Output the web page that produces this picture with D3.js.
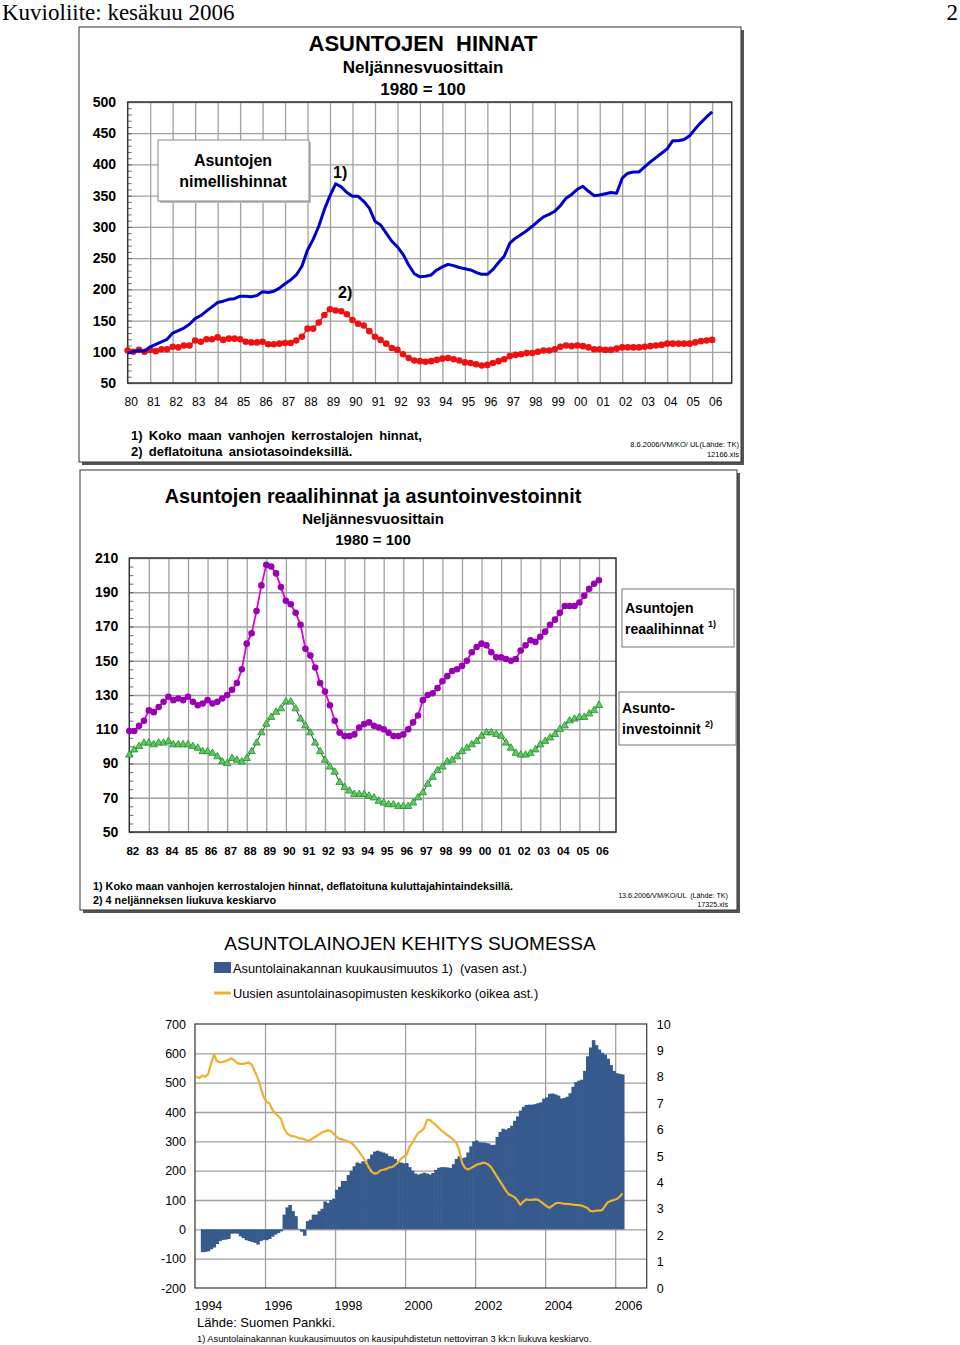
<!DOCTYPE html>
<html>
<head>
<meta charset="utf-8">
<script src="https://d3js.org/d3.v7.min.js"></script>
<style>
    body { margin: 0; background: #fff; }
    svg text { font-family: "Liberation Sans", Arial, sans-serif; fill: #000; white-space: pre; }
    .grid line { stroke: #a0a0a0; stroke-width: 1.3; }
    .grid .domain { stroke: none; }
    .noline .domain, .noline line { stroke: none; }
    .minor line { stroke: #444; stroke-width: 0.8; }
    .minor .domain { stroke: none; }
</style>
</head>
<body>
<svg id="page" width="960" height="1345"></svg>
<script>
// --- chart 1: nominal and deflated prices, quarterly 1980Q1-2006Q1
const nominalPrices = [
    98, 100, 102, 101, 108, 112, 116, 120, 130, 134, 138, 144,
    153, 158, 165, 172, 179, 181, 184, 185, 189, 189, 188, 190,
    196, 195, 197, 202, 209, 215, 223, 237, 263, 280, 301, 328,
    350, 369, 364, 355, 349, 349, 341, 330, 309, 303, 290, 277,
    268, 256, 239, 225, 220, 221, 223, 231, 236, 240, 238, 235,
    233, 231, 227, 224, 224, 232, 243, 253, 274, 282, 288, 294,
    301, 309, 316, 320, 325, 334, 346, 352, 360, 365, 357, 350,
    351, 353, 355, 354, 378, 386, 388, 388, 396, 404, 411, 418,
    425, 438, 438, 440, 446, 457, 467, 476, 484
];
const deflatedPrices = [
    102, 100, 103, 100, 103, 101, 104, 104, 108, 107, 110, 110,
    118, 116, 120, 120, 123, 119, 121, 121, 120, 116, 115, 115,
    116, 112, 112, 113, 114, 114, 118, 124, 137, 137, 147, 159,
    168, 166, 165, 160, 151, 145, 142, 133, 124, 119, 113, 106,
    103, 96, 90, 86, 85, 84, 85, 87, 89, 90, 88, 86,
    83, 82, 80, 78, 79, 82, 85, 88, 93, 95, 96, 98,
    98, 100, 102, 102, 104, 108, 110, 109, 110, 109, 107, 104,
    104, 103, 103, 105, 107, 107, 107, 107, 108, 109, 110, 111,
    113, 113, 113, 113, 113, 115, 117, 118, 119
];
const years1 = d3.range(1980, 2007);
const ticks1 = [50, 100, 150, 200, 250, 300, 350, 400, 450, 500];

// --- chart 2: real prices and investment, quarterly 1982Q1-2006Q1
const realPrices = [
    109, 109, 112, 115, 121, 120, 123, 126, 129, 127, 128, 127,
    129, 126, 124, 125, 127, 125, 126, 128, 130, 133, 137, 145,
    160, 166, 179, 194, 206, 205, 201, 193, 185, 183, 178, 171,
    157, 153, 146, 137, 132, 124, 115, 108, 106, 106, 107, 111,
    113, 114, 112, 111, 110, 108, 106, 106, 107, 110, 114, 118,
    127, 130, 131, 134, 138, 141, 144, 145, 147, 150, 155, 158,
    160, 159, 155, 152, 152, 151, 150, 151, 156, 159, 162, 161,
    164, 167, 171, 174, 178, 182, 182, 182, 184, 188, 192, 195, 197
];
const housingInvestment = [
    95, 98, 100, 102, 102, 101, 102, 102, 103, 101, 101, 101,
    101, 100, 99, 97, 97, 96, 94, 91, 90, 93, 92, 91,
    93, 97, 102, 108, 113, 117, 120, 122, 126, 126, 122, 116,
    112, 108, 102, 97, 92, 88, 85, 79, 76, 74, 72, 72,
    72, 71, 70, 68, 67, 66, 66, 65, 65, 65, 67, 70,
    73, 78, 82, 86, 88, 91, 92, 94, 97, 99, 101, 103,
    106, 108, 108, 107, 106, 102, 99, 96, 95, 95, 96, 98,
    101, 103, 105, 107, 110, 112, 115, 116, 117, 117, 119, 121, 124
];
const years2 = d3.range(1982, 2007);
const ticks2 = [50, 70, 90, 110, 130, 150, 170, 190, 210];

// --- chart 3: monthly loan stock change (Mar 1994 - Mar 2006) and new loan rate (Jan 1994 - Mar 2006)
const loanChange = [
    -78, -77, -75, -68, -62, -50, -40, -36, -35, -33, -15, -14,
    -15, -24, -30, -37, -40, -43, -46, -52, -40, -36, -37, -33,
    -25, -18, -13, -7, 50, 75, 83, 62, 45, 2, -8, -22,
    28, 33, 50, 50, 62, 70, 95, 90, 100, 105, 135, 145,
    165, 165, 185, 200, 215, 228, 225, 232, 225, 240, 255, 265,
    268, 265, 262, 258, 250, 248, 240, 232, 228, 225, 226, 212,
    200, 190, 187, 190, 193, 190, 187, 192, 203, 210, 212, 212,
    211, 209, 222, 240, 249, 243, 245, 262, 283, 300, 303, 297,
    296, 295, 293, 288, 288, 315, 332, 343, 340, 345, 353, 370,
    385, 405, 418, 424, 425, 425, 427, 430, 433, 446, 450, 462,
    463, 460, 456, 446, 448, 452, 464, 486, 502, 507, 510, 540,
    590, 620, 645, 628, 613, 602, 596, 582, 560, 540, 532, 530, 528
];
const loanRate = [
    8.0, 7.95, 8.05, 8.0, 8.1, 8.5, 8.85, 8.6, 8.55, 8.56, 8.6, 8.64,
    8.7, 8.62, 8.52, 8.49, 8.49, 8.52, 8.54, 8.45, 8.2, 7.96, 7.6, 7.25,
    7.05, 7.0, 6.75, 6.62, 6.52, 6.4, 6.05, 5.86, 5.78, 5.75, 5.73, 5.68,
    5.66, 5.63, 5.59, 5.6, 5.68, 5.75, 5.82, 5.89, 5.93, 5.97, 5.95, 5.84,
    5.72, 5.65, 5.63, 5.59, 5.55, 5.5, 5.4, 5.27, 5.12, 4.97, 4.8, 4.58,
    4.41, 4.33, 4.35, 4.45, 4.48, 4.5, 4.57, 4.58, 4.65, 4.75, 4.88, 4.98,
    5.04, 5.35, 5.5, 5.7, 5.88, 5.94, 6.05, 6.37, 6.37, 6.27, 6.17, 6.07,
    5.96, 5.88, 5.79, 5.71, 5.62, 5.5, 5.25, 4.75, 4.55, 4.49, 4.54, 4.6,
    4.67, 4.7, 4.74, 4.74, 4.68, 4.57, 4.4, 4.22, 4.05, 3.88, 3.7, 3.55,
    3.5, 3.44, 3.32, 3.15, 3.27, 3.36, 3.34, 3.34, 3.36, 3.35, 3.27, 3.19,
    3.1, 3.04, 3.12, 3.2, 3.23, 3.21, 3.19, 3.19, 3.18, 3.16, 3.15, 3.14,
    3.12, 3.08, 3.03, 2.92, 2.9, 2.93, 2.93, 2.95, 3.1, 3.25, 3.3, 3.33,
    3.37, 3.45, 3.58
];
const ticks3Left = [-200, -100, 0, 100, 200, 300, 400, 500, 600, 700];
const ticks3Right = [0, 1, 2, 3, 4, 5, 6, 7, 8, 9, 10];
const years3 = [1994, 1996, 1998, 2000, 2002, 2004, 2006];

const svg = d3.select("#page");

function txt(x, y, str, size, opts = {}) {
    return svg.append("text")
        .attr("x", x).attr("y", y)
        .attr("font-size", size)
        .attr("font-weight", opts.bold ? "bold" : null)
        .attr("text-anchor", opts.anchor || "start")
        .text(str);
}

function box(x, y, w, h) {
    svg.append("rect").attr("x", x + 3).attr("y", y + 3).attr("width", w).attr("height", h).attr("fill", "#555");
    svg.append("rect").attr("x", x).attr("y", y).attr("width", w).attr("height", h)
        .attr("fill", "#fff").attr("stroke", "#333").attr("stroke-width", 1);
}

// page header
svg.append("text").attr("x", 2).attr("y", 20).attr("font-size", 23)
    .style("font-family", "'Liberation Serif', serif").text("Kuvioliite: kesäkuu 2006");
svg.append("text").attr("x", 958).attr("y", 20).attr("font-size", 23).attr("text-anchor", "end")
    .style("font-family", "'Liberation Serif', serif").text("2");

// common frame for the two quarterly charts
function quarterChart(c) {
    const x = d3.scaleLinear().domain(c.xDomain).range([c.left, c.right]);
    const y = d3.scaleLinear().domain(c.yDomain).range([c.bottom, c.top]);
    const w = c.right - c.left, h = c.bottom - c.top;
    const g = svg.append("g");

    g.append("g").attr("class", "grid").attr("transform", `translate(${c.left},0)`)
        .call(d3.axisLeft(y).tickValues(c.yTicks).tickSize(-w).tickFormat(""));
    g.append("g").attr("class", "grid").attr("transform", `translate(0,${c.bottom})`)
        .call(d3.axisBottom(x).tickValues(c.years.slice(1)).tickSize(-h).tickFormat(""));
    g.append("g").attr("class", "minor").attr("transform", `translate(${c.left},0)`)
        .call(d3.axisLeft(y).tickValues(d3.range(c.yDomain[0], c.yDomain[1], c.minor)).tickSize(-4).tickFormat(""));
    g.append("rect").attr("x", c.left).attr("y", c.top).attr("width", w).attr("height", h)
        .attr("fill", "none").attr("stroke", "#333").attr("stroke-width", 1.5);

    const ya = g.append("g").attr("class", "noline").attr("transform", `translate(${c.left},0)`)
        .call(d3.axisLeft(y).tickValues(c.yTicks).tickSize(0).tickPadding(c.yPad));
    ya.selectAll("text").attr("font-size", 14).attr("font-weight", "bold")
        .style("font-family", "'Liberation Sans', Arial, sans-serif").attr("fill", "#000");

    const xa = g.append("g").attr("class", "noline").attr("transform", `translate(0,${c.bottom})`)
        .call(d3.axisBottom(x).tickValues(c.years).tickSize(0).tickPadding(c.xPad)
            .tickFormat(d => String(d).slice(2)));
    xa.selectAll("text").attr("font-size", c.xSize).attr("font-weight", c.xBold ? "bold" : null)
        .attr("dx", 3).style("font-family", "'Liberation Sans', Arial, sans-serif").attr("fill", "#000");

    return { g, x, y };
}

// ================= Chart 1 =================
box(79, 27, 662, 435);
const c1 = quarterChart({
    left: 127.7, right: 731.7, top: 102, bottom: 383,
    xDomain: [1980, 2006.87], yDomain: [50, 500],
    yTicks: ticks1, years: years1, minor: 10,
    yPad: 11.7, xPad: 14, xSize: 12, xBold: false
});
const q1 = i => 1980 + i / 4;
c1.g.append("path").datum(deflatedPrices)
    .attr("fill", "none").attr("stroke", "#ff1a1a").attr("stroke-width", 1.5)
    .attr("d", d3.line().x((d, i) => c1.x(q1(i))).y(d => c1.y(d)));
c1.g.selectAll("circle.red").data(deflatedPrices).join("circle").attr("class", "red")
    .attr("cx", (d, i) => c1.x(q1(i))).attr("cy", d => c1.y(d)).attr("r", 3.3).attr("fill", "#ee1111");
c1.g.append("path").datum(nominalPrices)
    .attr("fill", "none").attr("stroke", "#0000cc").attr("stroke-width", 3).attr("stroke-linejoin", "round")
    .attr("d", d3.line().x((d, i) => c1.x(q1(i))).y(d => c1.y(d)));

txt(423, 51, "ASUNTOJEN  HINNAT", 22, { bold: true, anchor: "middle" });
txt(423, 73, "Neljännesvuosittain", 17, { bold: true, anchor: "middle" });
txt(423, 95, "1980 = 100", 17, { bold: true, anchor: "middle" });

svg.append("rect").attr("x", 160).attr("y", 142).attr("width", 151).attr("height", 61).attr("fill", "#bbb");
svg.append("rect").attr("x", 158).attr("y", 140).attr("width", 151).attr("height", 61)
    .attr("fill", "#fff").attr("stroke", "#888");
txt(233, 166, "Asuntojen", 16, { bold: true, anchor: "middle" });
txt(233, 187, "nimellishinnat", 16, { bold: true, anchor: "middle" });
txt(333, 178, "1)", 16, { bold: true });
txt(338, 298, "2)", 16, { bold: true });

txt(131, 440, "1) Koko maan vanhojen kerrostalojen hinnat,", 13, { bold: true }).attr("word-spacing", 2.7);
txt(131, 456, "2) deflatoituna ansiotasoindeksillä.", 13, { bold: true }).attr("word-spacing", 2.7);
txt(739, 447, "8.6.2006/VM/KO/ UL(Lähde: TK)", 7.5, { anchor: "end" });
txt(739, 457, "12166.xls", 7.5, { anchor: "end" });

// ================= Chart 2 =================
box(80, 470, 657, 440);
const c2 = quarterChart({
    left: 129.3, right: 616, top: 558, bottom: 832,
    xDomain: [1982, 2006.87], yDomain: [50, 210],
    yTicks: ticks2, years: years2, minor: 5,
    yPad: 11, xPad: 15, xSize: 11.5, xBold: true
});
const q2 = i => 1982 + i / 4;
c2.g.append("path").datum(realPrices)
    .attr("fill", "none").attr("stroke", "#dd00dd").attr("stroke-width", 1.8)
    .attr("d", d3.line().x((d, i) => c2.x(q2(i))).y(d => c2.y(d)));
c2.g.selectAll("circle.mag").data(realPrices).join("circle").attr("class", "mag")
    .attr("cx", (d, i) => c2.x(q2(i))).attr("cy", d => c2.y(d)).attr("r", 3.3).attr("fill", "#9a00b4");
c2.g.append("path").datum(housingInvestment)
    .attr("fill", "none").attr("stroke", "#1d4a1d").attr("stroke-width", 1)
    .attr("d", d3.line().x((d, i) => c2.x(q2(i))).y(d => c2.y(d)));
c2.g.selectAll("path.tri").data(housingInvestment).join("path").attr("class", "tri")
    .attr("transform", (d, i) => `translate(${c2.x(q2(i))},${c2.y(d)})`)
    .attr("d", d3.symbol(d3.symbolTriangle).size(24))
    .attr("fill", "#5fc95f").attr("stroke", "#1f8f2f").attr("stroke-width", 0.8);

txt(373, 503, "Asuntojen reaalihinnat ja asuntoinvestoinnit", 19.8, { bold: true, anchor: "middle" });
txt(373, 524, "Neljännesvuosittain", 15, { bold: true, anchor: "middle" });
txt(373, 545, "1980 = 100", 15, { bold: true, anchor: "middle" });

svg.append("rect").attr("x", 622).attr("y", 589).attr("width", 112).attr("height", 58)
    .attr("fill", "#fff").attr("stroke", "#777");
txt(625, 613, "Asuntojen", 14, { bold: true });
txt(625, 634, "reaalihinnat", 14, { bold: true });
txt(708, 627, "1)", 9, { bold: true });
svg.append("rect").attr("x", 619).attr("y", 692).attr("width", 117).attr("height", 53)
    .attr("fill", "#fff").attr("stroke", "#777");
txt(622, 713, "Asunto-", 14, { bold: true });
txt(622, 734, "investoinnit", 14, { bold: true });
txt(705, 727, "2)", 9, { bold: true });

txt(93, 890, "1) Koko maan vanhojen kerrostalojen hinnat, deflatoituna kuluttajahintaindeksillä.", 10.8, { bold: true });
txt(93, 904, "2) 4 neljänneksen liukuva keskiarvo", 10.8, { bold: true });
txt(728, 898, "13.6.2006/VM/KO/UL  (Lähde: TK)", 7.2, { anchor: "end" });
txt(728, 907, "17325.xls", 7.2, { anchor: "end" });

// ================= Chart 3 =================
const L3 = 195, R3 = 646.7, T3 = 1024, B3 = 1288;
const x3 = d3.scaleLinear().domain([1994, 2006.9]).range([L3, R3]);
const yL = d3.scaleLinear().domain([-200, 700]).range([B3, T3]);
const yR = d3.scaleLinear().domain([0, 10]).range([B3, T3]);
const barColor = "#365a8c", rateColor = "#f0b030";
const g3 = svg.append("g");

g3.append("g").attr("class", "grid").attr("transform", `translate(${L3},0)`)
    .call(d3.axisLeft(yL).tickValues(ticks3Left.slice(1, -1)).tickSize(-(R3 - L3)).tickFormat(""))
    .selectAll("line").attr("stroke", "#c8c8c8").attr("stroke-width", 1.2);
g3.append("g").attr("class", "grid").attr("transform", `translate(0,${B3})`)
    .call(d3.axisBottom(x3).tickValues(years3.slice(1)).tickSize(-(B3 - T3)).tickFormat(""))
    .selectAll("line").attr("stroke", "#2a2a2a").attr("stroke-width", 1.2);

const m3 = i => 1994 + i / 12;
g3.selectAll("rect.bar").data(loanChange).join("rect").attr("class", "bar")
    .attr("x", (d, i) => x3(m3(i + 2)))
    .attr("width", x3(m3(1)) - x3(m3(0)) + 0.6)
    .attr("y", d => yL(Math.max(0, d)))
    .attr("height", d => Math.abs(yL(d) - yL(0)))
    .attr("fill", barColor);

g3.append("path").datum(loanRate)
    .attr("fill", "none").attr("stroke", rateColor).attr("stroke-width", 2.2).attr("stroke-linejoin", "round")
    .attr("d", d3.line().x((d, i) => x3(m3(i + 0.5))).y(d => yR(d)));

g3.append("rect").attr("x", L3).attr("y", T3).attr("width", R3 - L3).attr("height", B3 - T3)
    .attr("fill", "none").attr("stroke", "#333").attr("stroke-width", 1.2);

const axL = g3.append("g").attr("class", "noline").attr("transform", `translate(${L3},0)`)
    .call(d3.axisLeft(yL).tickValues(ticks3Left).tickSize(0).tickPadding(9).tickFormat(d => String(d)));
const axR = g3.append("g").attr("class", "noline").attr("transform", `translate(${R3},0)`)
    .call(d3.axisRight(yR).tickValues(ticks3Right).tickSize(0).tickPadding(10).tickFormat(d => String(d)));
const axB = g3.append("g").attr("class", "noline").attr("transform", `translate(0,${B3})`)
    .call(d3.axisBottom(x3).tickValues(years3).tickSize(0).tickPadding(13).tickFormat(d => String(d)));
axB.selectAll("text").attr("text-anchor", "start").attr("dx", -1);
g3.selectAll(".noline text").attr("font-size", 12.5)
    .style("font-family", "'Liberation Sans', Arial, sans-serif").attr("fill", "#000");

txt(410, 950, "ASUNTOLAINOJEN KEHITYS SUOMESSA", 19, { anchor: "middle" });
svg.append("rect").attr("x", 214).attr("y", 962).attr("width", 17).attr("height", 11).attr("fill", barColor);
txt(233, 973, "Asuntolainakannan kuukausimuutos 1)  (vasen ast.)", 12.8);
svg.append("line").attr("x1", 214).attr("x2", 231).attr("y1", 993).attr("y2", 993)
    .attr("stroke", rateColor).attr("stroke-width", 3);
txt(233, 998, "Uusien asuntolainasopimusten keskikorko (oikea ast.)", 12.8);

txt(197, 1327, "Lähde: Suomen Pankki.", 13);
txt(197, 1342, "1) Asuntolainakannan kuukausimuutos on kausipuhdistetun nettovirran 3 kk:n liukuva keskiarvo.", 9.3);
</script>
</body>
</html>
